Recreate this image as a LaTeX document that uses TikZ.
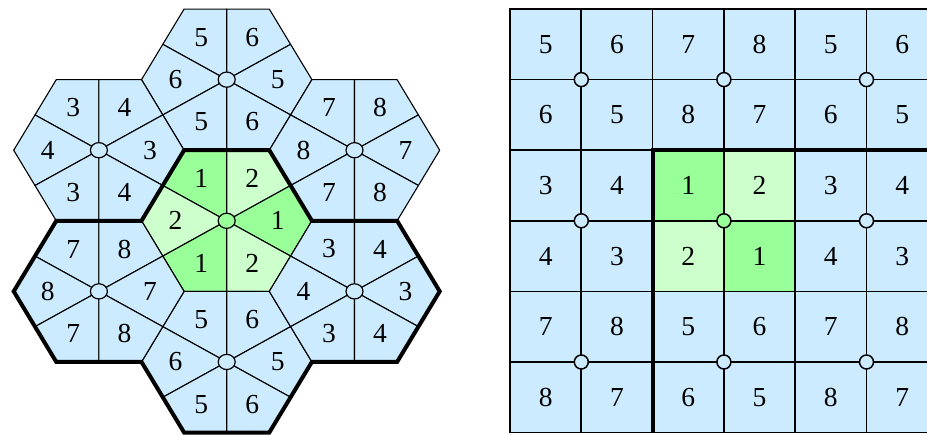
\documentclass[tikz,border=0pt]{standalone}
\usepackage{fontspec}
\setmainfont{Liberation Serif}
\usetikzlibrary{positioning,shapes.geometric}

\definecolor{sky}{RGB}{204,235,255}
\definecolor{leafdark}{RGB}{153,255,153}
\definecolor{leaflight}{RGB}{204,255,204}
\colorlet{tone1}{leafdark}
\colorlet{tone2}{leaflight}
\colorlet{tone3}{sky}
\colorlet{tone4}{sky}
\colorlet{tone5}{sky}
\colorlet{tone6}{sky}
\colorlet{tone7}{sky}
\colorlet{tone8}{sky}

\begin{document}
\begin{tikzpicture}[
  x=1pt, y=1pt,
  font=\fontsize{27.5}{28}\selectfont,
  wedge/.style={draw, line width=1.1pt, line join=round},
  hub/.style={draw, ellipse, line width=1.2pt, inner sep=0pt, minimum width=17pt, minimum height=15.2pt},
  cell/.style={draw, line width=1.7pt, minimum width=71.3pt, minimum height=70.6pt, inner sep=0pt, outer sep=0pt, anchor=north west},
  knot/.style={draw, circle, line width=1.5pt, inner sep=0pt, minimum size=14pt},
  border/.style={line width=4pt, line join=miter},
]
\useasboundingbox (0,0) rectangle (927,435);

% hexagonal layout
\begin{scope}[shift={(226.7,214.2)}, x=85.2pt, y=81.5pt]
\foreach \hx/\hy/\p/\q [count=\h] in {0/0/1/2, 0/1.732/5/6, 0/-1.732/5/6,
    -1.5/0.866/3/4, 1.5/0.866/7/8, -1.5/-0.866/7/8, 1.5/-0.866/3/4} {
  \foreach \t/\lab in {120/\p, 60/\q, 180/\q, 0/\p, 240/\p, 300/\q} {
    \filldraw[wedge, fill=tone\lab] (\hx,\hy) -- +(\t-30:0.866) -- +(\t:1) -- +(\t+30:0.866) -- cycle;
    \path (\hx,\hy) ++(\t:0.6) node (n\h-\t) {\lab};
  }
  \node[hub, fill=tone\p] (hub\h) at (\hx,\hy) {};
}
\draw[border] (-0.5,0.866) -- (0.5,0.866) -- (1,0) -- (2,0) -- (2.5,-0.866) -- (2,-1.732)
  -- (1,-1.732) -- (0.5,-2.598) -- (-0.5,-2.598) -- (-1,-1.732) -- (-2,-1.732)
  -- (-2.5,-0.866) -- (-2,0) -- (-1,0) -- cycle;
\end{scope}

% square layout
\begin{scope}
\clip (0,0) rectangle (927,435);
\foreach \row [count=\r] in {{5,6,7,8,5,6},{6,5,8,7,6,5},{3,4,1,2,3,4},
    {4,3,2,1,4,3},{7,8,5,6,7,8},{8,7,6,5,8,7}} {
  \foreach \lab [count=\c] in \row
    \node[cell, fill=tone\lab] (g\r-\c) at ({510+(\c-1)*71.3},{426-(\r-1)*70.6}) {\lab};
}
\foreach \r/\c/\col in {1/1/sky, 1/3/sky, 1/5/sky, 3/1/sky, 3/3/leafdark, 3/5/sky,
    5/1/sky, 5/3/sky, 5/5/sky}
  \node[knot, fill=\col] (k\r-\c) at (g\r-\c.south east) {};
\draw[border] (g6-3.south west) -- (g3-3.north west) -- (g3-6.north east);
\end{scope}
\end{tikzpicture}
\end{document}
